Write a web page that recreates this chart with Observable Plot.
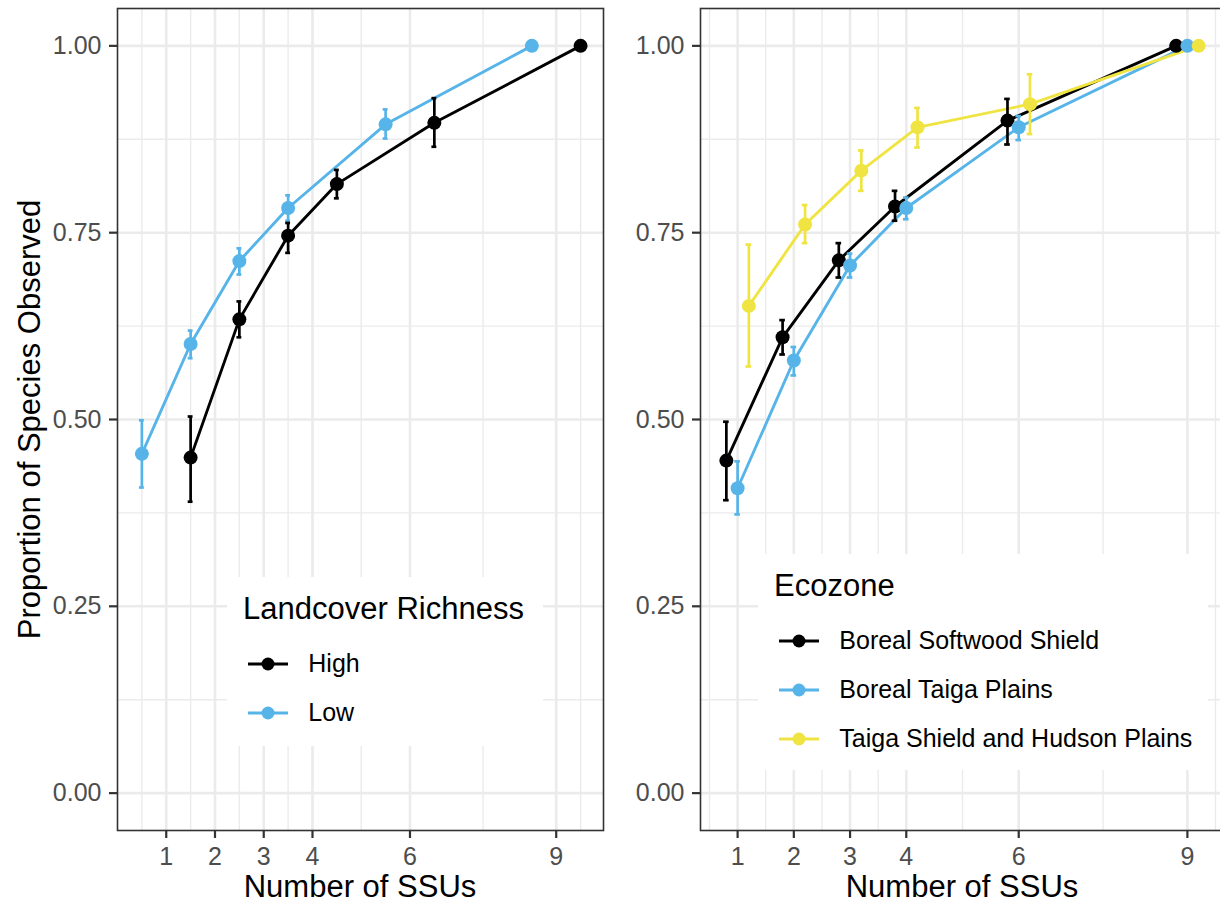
<!DOCTYPE html>
<html>
<head>
<meta charset="utf-8">
<script src="https://cdn.jsdelivr.net/npm/d3@7"></script>
<script src="https://cdn.jsdelivr.net/npm/@observablehq/plot@0.6"></script>
<style>
html, body { margin: 0; padding: 0; background: #fff; overflow: hidden; }
#root { position: relative; width: 1220px; height: 906px; overflow: hidden; font-family: "Liberation Sans", Arial, sans-serif; background: #fff; }
.abs { position: absolute; white-space: nowrap; }
.axtitle { font-size: 31px; line-height: 31px; color: #000; text-align: center; }
.legend { position: absolute; background: #fff; }
.legtitle { position: absolute; font-size: 31px; line-height: 31px; color: #000; white-space: nowrap; }
.legtext { position: absolute; font-size: 25px; line-height: 25px; color: #000; white-space: nowrap; }
.legkey { position: absolute; }
</style>
</head>
<body>
<div id="root"></div>
<script>
// ---------------- data ----------------
const ssu = [1, 2, 3, 4, 6, 9];                       // number of SSUs (tick labels)
const xMinor = [0.5, 1.5, 2.5, 3.5, 5, 7.5, 9.5];
const yMajor = [0, 0.25, 0.5, 0.75, 1];
const yMinor = [0.125, 0.375, 0.625, 0.875];

// Left panel: Landcover Richness
const landcoverNames = ["High", "Low"];
const landcoverColors = ["#000000", "#56B4E9"];
const highMean = [0.449, 0.634, 0.746, 0.815, 0.897, 1.0];
const highLo   = [0.390, 0.610, 0.723, 0.796, 0.865, 1.0];
const highHi   = [0.504, 0.658, 0.763, 0.834, 0.930, 1.0];
const lowMean  = [0.454, 0.601, 0.712, 0.783, 0.895, 1.0];
const lowLo    = [0.409, 0.582, 0.694, 0.766, 0.876, 1.0];
const lowHi    = [0.499, 0.619, 0.729, 0.800, 0.915, 1.0];

// Right panel: Ecozone
const ecozoneNames = ["Boreal Softwood Shield", "Boreal Taiga Plains", "Taiga Shield and Hudson Plains"];
const ecozoneColors = ["#000000", "#56B4E9", "#F0E442"];
const bssMean = [0.445, 0.610, 0.713, 0.785, 0.900, 1.0];
const bssLo   = [0.392, 0.587, 0.690, 0.766, 0.868, 1.0];
const bssHi   = [0.497, 0.633, 0.736, 0.806, 0.929, 1.0];
const btpMean = [0.408, 0.579, 0.706, 0.783, 0.891, 1.0];
const btpLo   = [0.373, 0.559, 0.690, 0.768, 0.874, 1.0];
const btpHi   = [0.444, 0.597, 0.722, 0.797, 0.906, 1.0];
const tshMean = [0.652, 0.761, 0.833, 0.891, 0.922, 1.0];
const tshLo   = [0.571, 0.736, 0.806, 0.864, 0.882, 1.0];
const tshHi   = [0.734, 0.787, 0.860, 0.917, 0.962, 1.0];

// dodge offsets (position adjustment, as in the original figure)
const landcoverDodge = [0.5, -0.5];
const ecozoneDodge = [-0.2, 0, 0.2];

// ---------------- helpers ----------------
const FONT = '"Liberation Sans", Arial, sans-serif';
const root = document.getElementById("root");

function makeRows(names, means, los, his, dodge) {
  return names.flatMap((name, g) => ssu.map((n, i) => ({
    group: name, x: n + dodge[g], mean: means[g][i], lo: los[g][i], hi: his[g][i]
  })));
}

function panel({rows, names, colors, xDomain, width, marginLeft, marginRight, cap}) {
  return Plot.plot({
    width, height: 906,
    marginLeft, marginRight, marginTop: 8, marginBottom: 76,
    x: {domain: xDomain},
    y: {domain: [-0.05, 1.05]},
    color: {domain: names, range: colors},
    style: {fontFamily: FONT, background: "#fff", overflow: "visible"},
    marks: [
      Plot.ruleX(xMinor, {stroke: "#EBEBEB", strokeWidth: 1.4}),
      Plot.ruleY(yMinor, {stroke: "#EBEBEB", strokeWidth: 1.4}),
      Plot.ruleX(ssu, {stroke: "#EBEBEB", strokeWidth: 2.6}),
      Plot.ruleY(yMajor, {stroke: "#EBEBEB", strokeWidth: 2.6}),
      Plot.line(rows, {x: "x", y: "mean", stroke: "group", z: "group", strokeWidth: 2.9}),
      Plot.ruleX(rows, {x: "x", y1: "lo", y2: "hi", stroke: "group", strokeWidth: 2.7}),
      Plot.ruleY(rows, {y: "lo", x1: d => d.x - cap, x2: d => d.x + cap, stroke: "group", strokeWidth: 2.7}),
      Plot.ruleY(rows, {y: "hi", x1: d => d.x - cap, x2: d => d.x + cap, stroke: "group", strokeWidth: 2.7}),
      Plot.dot(rows, {x: "x", y: "mean", fill: "group", r: 7}),
      Plot.axisY({ticks: yMajor, tickFormat: d3.format(".2f"), tickSize: 8, tickPadding: 8,
        fontSize: 25, stroke: "#333333", strokeWidth: 2.2, fill: "#4D4D4D", label: null}),
      Plot.axisX({ticks: ssu, tickFormat: d3.format("d"), tickSize: 8, tickPadding: 9,
        fontSize: 25, stroke: "#333333", strokeWidth: 2.2, fill: "#4D4D4D", label: null}),
      Plot.frame({stroke: "#333333", strokeWidth: 1.6})
    ]
  });
}

function addDiv(cls, text, style) {
  const d = document.createElement("div");
  d.className = cls;
  if (text != null) d.textContent = text;
  Object.assign(d.style, style);
  return d;
}

function legend({left, top, width, height, title, names, colors}) {
  const box = addDiv("legend", null, {left: left + "px", top: top + "px", width: width + "px", height: height + "px"});
  box.appendChild(addDiv("legtitle", title, {left: "16px", top: (42 - 26.2) + "px"}));
  names.forEach((name, i) => {
    const cy = 87 + 49 * i;
    const ns = "http://www.w3.org/2000/svg";
    const svg = document.createElementNS(ns, "svg");
    svg.setAttribute("width", 40); svg.setAttribute("height", 16);
    svg.setAttribute("class", "legkey");
    svg.style.left = "20.5px"; svg.style.top = (cy - 8) + "px";
    const ln = document.createElementNS(ns, "line");
    ln.setAttribute("x1", 0); ln.setAttribute("x2", 40); ln.setAttribute("y1", 8); ln.setAttribute("y2", 8);
    ln.setAttribute("stroke", colors[i]); ln.setAttribute("stroke-width", 2.9);
    const c = document.createElementNS(ns, "circle");
    c.setAttribute("cx", 20); c.setAttribute("cy", 8); c.setAttribute("r", 6.5); c.setAttribute("fill", colors[i]);
    svg.appendChild(ln); svg.appendChild(c);
    box.appendChild(svg);
    box.appendChild(addDiv("legtext", name, {left: "81.3px", top: (cy + 8.6 - 21.2) + "px"}));
  });
  return box;
}

// ---------------- left panel ----------------
const leftRows = makeRows(landcoverNames, [highMean, lowMean], [highLo, lowLo], [highHi, lowHi], landcoverDodge);
const leftPlot = panel({rows: leftRows, names: landcoverNames, colors: landcoverColors,
  xDomain: [0, 9.97], width: 610, marginLeft: 117, marginRight: 7, cap: 0.05});
Object.assign(leftPlot.style, {position: "absolute", left: "0px", top: "0px", maxWidth: "none"});
root.appendChild(leftPlot);

// ---------------- right panel ----------------
const rightRows = makeRows(ecozoneNames, [bssMean, btpMean, tshMean], [bssLo, btpLo, tshLo], [bssHi, btpHi, tshHi], ecozoneDodge);
const rightPlot = panel({rows: rightRows, names: ecozoneNames, colors: ecozoneColors,
  xDomain: [0.34, 9.66], width: 620, marginLeft: 90, marginRight: 6, cap: 0.05});
Object.assign(rightPlot.style, {position: "absolute", left: "610px", top: "0px", maxWidth: "none"});
root.appendChild(rightPlot);

// ---------------- titles ----------------
root.appendChild(addDiv("abs axtitle", "Number of SSUs", {left: (360 - 250) + "px", top: (897.3 - 26.2) + "px", width: "500px"}));
root.appendChild(addDiv("abs axtitle", "Number of SSUs", {left: (962 - 250) + "px", top: (897.3 - 26.2) + "px", width: "500px"}));
root.appendChild(addDiv("abs axtitle", "Proportion of Species Observed", {
  left: (29.3 - 300) + "px", top: (419 - 15.5) + "px", width: "600px", height: "31px", transform: "rotate(-90deg)"}));

// ---------------- legends ----------------
root.appendChild(legend({left: 227, top: 577, width: 316, height: 169, title: "Landcover Richness",
  names: landcoverNames, colors: landcoverColors}));
root.appendChild(legend({left: 758, top: 554, width: 450, height: 216, title: "Ecozone",
  names: ecozoneNames, colors: ecozoneColors}));
</script>
</body>
</html>
